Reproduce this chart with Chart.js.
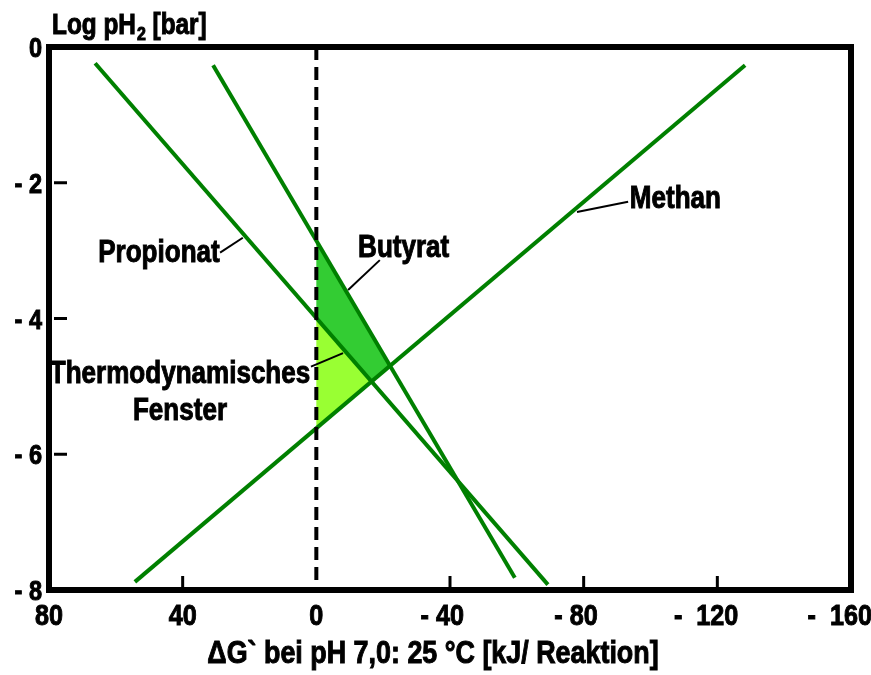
<!DOCTYPE html>
<html>
<head>
<meta charset="utf-8">
<script src="https://cdn.jsdelivr.net/npm/chart.js@4.4.0/dist/chart.umd.min.js"></script>
<style>
  html, body { margin: 0; padding: 0; background: #fff; }
</style>
</head>
<body>
<canvas id="myChart" width="871" height="675"></canvas>
<script>
// Achsen
var xTicks = [80, 40, 0, -40, -80, -120, -160];
var xTickLabels = ['80', '40', '0', '- 40', '- 80', '-  120', '-  160'];
var yTicks = [0, -2, -4, -6, -8];
var yTickLabels = ['0', '- 2', '- 4', '- 6', '- 8'];

var propionatX = [66.2, -69.3];
var propionatY = [-0.24, -7.92];
var butyratX = [30.9, -59.4];
var butyratY = [-0.27, -7.82];
var methanX = [54.3, -128.3];
var methanY = [-7.88, -0.27];
var nullX = [0, 0];
var nullY = [0, -8];

function punkte(xs, ys) {
  return xs.map(function (x, i) { return { x: x, y: ys[i] }; });
}

// Schnittpunkt zweier Geraden, jeweils durch zwei Punkte gegeben
function schnitt(ax, ay, bx, by) {
  var x1 = ax[0], y1 = ay[0], x2 = ax[1], y2 = ay[1];
  var x3 = bx[0], y3 = by[0], x4 = bx[1], y4 = by[1];
  var d = (x1 - x2) * (y3 - y4) - (y1 - y2) * (x3 - x4);
  var t = ((x1 - x3) * (y3 - y4) - (y1 - y3) * (x3 - x4)) / d;
  return { x: x1 + t * (x2 - x1), y: y1 + t * (y2 - y1) };
}

var B0 = schnitt(butyratX, butyratY, nullX, nullY);
var P0 = schnitt(propionatX, propionatY, nullX, nullY);
var M0 = schnitt(methanX, methanY, nullX, nullY);
var PM = schnitt(propionatX, propionatY, methanX, methanY);
var BM = schnitt(butyratX, butyratY, methanX, methanY);

var FONT = '"Liberation Sans", Arial, sans-serif';
var SCHMAL = 0.84; // Arial Narrow nachgebildet

// Text schmal gestaucht und kraeftig zeichnen, gibt Breite zurueck
function text(ctx, s, x, y, size, align) {
  ctx.save();
  ctx.font = 'bold ' + size + 'px ' + FONT;
  var w = ctx.measureText(s).width * SCHMAL;
  ctx.translate(x, y);
  ctx.scale(SCHMAL, 1);
  ctx.textAlign = align || 'left';
  ctx.textBaseline = 'alphabetic';
  ctx.fillStyle = '#000';
  ctx.strokeStyle = '#000';
  ctx.lineWidth = 1;
  ctx.fillText(s, 0, 0);
  ctx.strokeText(s, 0, 0);
  ctx.restore();
  return w;
}
function breite(ctx, s, size) {
  ctx.save();
  ctx.font = 'bold ' + size + 'px ' + FONT;
  var w = ctx.measureText(s).width * SCHMAL;
  ctx.restore();
  return w;
}

var rahmenPlugin = {
  id: 'rahmen',
  afterDatasetsDraw: function (chart) {
    var ctx = chart.ctx;
    var a = chart.chartArea;
    var xs = chart.scales.x, ys = chart.scales.y;
    ctx.save();
    // Rahmen
    ctx.strokeStyle = '#000';
    ctx.lineWidth = 6;
    ctx.strokeRect(a.left, a.top, a.right - a.left, a.bottom - a.top);

    // Teilstriche nach innen
    ctx.lineWidth = 3;
    xTicks.forEach(function (v) {
      if (v === 0 || v === xs.min || v === xs.max) return;
      var px = xs.getPixelForValue(v);
      ctx.beginPath();
      ctx.moveTo(px, a.bottom);
      ctx.lineTo(px, a.bottom - 14);
      ctx.stroke();
    });
    yTicks.forEach(function (v) {
      if (v === ys.min || v === ys.max) return;
      var py = ys.getPixelForValue(v);
      ctx.beginPath();
      ctx.moveTo(a.left + 5, py);
      ctx.lineTo(a.left + 18, py);
      ctx.stroke();
    });

    // Beschriftung x: Zahl mittig, Minus davor
    xTickLabels.forEach(function (lab, i) {
      var px = xs.getPixelForValue(xTicks[i]);
      var zahl = lab.replace(/^-\s*/, '');
      var w = breite(ctx, zahl, 30);
      text(ctx, zahl, px, a.bottom + 35, 30, 'center');
      if (zahl !== lab) {
        text(ctx, lab.slice(0, lab.length - zahl.length), px - w / 2, a.bottom + 35, 30, 'right');
      }
    });

    // Beschriftung y
    yTickLabels.forEach(function (lab, i) {
      text(ctx, lab, a.left - 7, ys.getPixelForValue(yTicks[i]) + 10, 28, 'right');
    });

    // Achsentitel y
    var tx = 52, ty = 34;
    tx += text(ctx, 'Log pH', tx, ty, 29, 'left') + 1;
    tx += text(ctx, '2', tx, ty + 6, 19, 'left');
    text(ctx, ' [bar]', tx, ty, 29, 'left');

    // Achsentitel x
    text(ctx, '\u0394G` bei pH 7,0: 25 \u00b0C [kJ/ Reaktion]', 433, a.bottom + 73, 32, 'center');

    // Kurvenbeschriftungen (Datenkoordinaten)
    function X(v) { return xs.getPixelForValue(v); }
    function Y(v) { return ys.getPixelForValue(v); }
    function strich(x1, y1, x2, y2) {
      ctx.beginPath();
      ctx.moveTo(X(x1), Y(y1));
      ctx.lineTo(X(x2), Y(y2));
      ctx.stroke();
    }
    text(ctx, 'Propionat', X(47.1), Y(-3.17), 31, 'center');
    text(ctx, 'Thermodynamisches', X(40.8), Y(-4.95), 31, 'center');
    text(ctx, 'Fenster', X(40.8), Y(-5.49), 31, 'center');
    text(ctx, 'Butyrat', X(-12.5), Y(-3.09), 31, 'left');
    text(ctx, 'Methan', X(-93.8), Y(-2.37), 31, 'left');

    ctx.lineWidth = 2;
    strich(28.8, -3.03, 22.0, -2.81);
    strich(-19.0, -3.14, -9.5, -3.58);
    strich(-93.3, -2.28, -78.0, -2.43);
    strich(1.6, -4.71, -8.0, -4.51);
    ctx.restore();
  }
};

var ctx = document.getElementById('myChart').getContext('2d');
var myChart = new Chart(ctx, {
  type: 'scatter',
  data: {
    datasets: [
      {
        label: 'Null',
        data: punkte(nullX, nullY),
        showLine: true,
        borderColor: '#000',
        borderWidth: 4,
        borderDash: [13, 7],
        pointRadius: 0,
        order: 0
      },
      {
        label: 'Propionat',
        data: punkte(propionatX, propionatY),
        showLine: true,
        borderColor: '#008000',
        borderWidth: 4,
        pointRadius: 0,
        order: 1
      },
      {
        label: 'Butyrat',
        data: punkte(butyratX, butyratY),
        showLine: true,
        borderColor: '#008000',
        borderWidth: 4,
        pointRadius: 0,
        order: 1
      },
      {
        label: 'Methan',
        data: punkte(methanX, methanY),
        showLine: true,
        borderColor: '#008000',
        borderWidth: 4,
        pointRadius: 0,
        order: 1
      },
      {
        label: 'Fenster oben',
        data: [B0, P0, PM, BM, B0],
        showLine: true,
        fill: 'shape',
        backgroundColor: '#33cc33',
        borderWidth: 0,
        pointRadius: 0,
        order: 2
      },
      {
        label: 'Fenster unten',
        data: [P0, M0, PM, P0],
        showLine: true,
        fill: 'shape',
        backgroundColor: '#99ff33',
        borderWidth: 0,
        pointRadius: 0,
        order: 2
      }
    ]
  },
  options: {
    responsive: false,
    animation: false,
    layout: { padding: { left: 49, top: 47, right: 20, bottom: 85 } },
    plugins: {
      legend: { display: false },
      tooltip: { enabled: false }
    },
    scales: {
      x: { type: 'linear', min: -160, max: 80, reverse: true, display: false },
      y: { type: 'linear', min: -8, max: 0, display: false }
    }
  },
  plugins: [rahmenPlugin]
});
</script>
</body>
</html>
